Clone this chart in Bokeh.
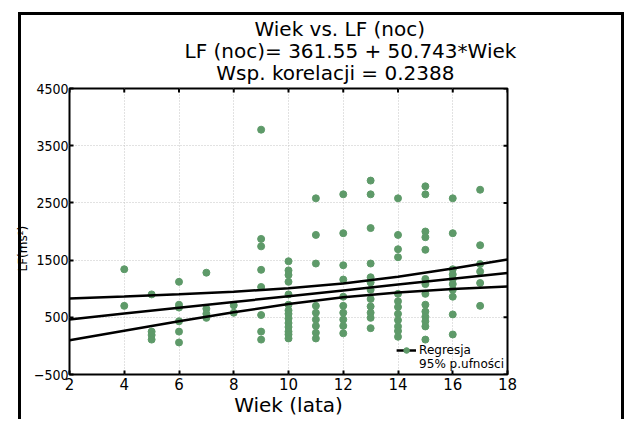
from bokeh.plotting import figure
from bokeh.models import FixedTicker, Range1d, Legend, LegendItem
from bokeh.embed import file_html
from bokeh.resources import INLINE

# ---- data ----
lf_age4 = [1340, 700]
lf_age5 = [900, 250, 190, 110]
lf_age6 = [1120, 720, 670, 430, 250, 60]
lf_age7 = [1280, 650, 560, 490]
lf_age8 = [710, 580]
lf_age9 = [3780, 1870, 1740, 1330, 1030, 540, 250, 110]
lf_age10 = [1480, 1320, 1240, 1120, 900, 720, 620, 560, 480, 400, 330, 250, 200, 130]
lf_age11 = [2580, 1940, 1440, 700, 580, 460, 350, 230, 130]
lf_age12 = [2650, 1970, 1410, 1160, 860, 700, 580, 460, 350, 220]
lf_age13 = [2890, 2650, 2060, 1440, 1200, 1110, 980, 820, 690, 580, 490, 310]
lf_age14 = [2580, 1940, 1690, 1550, 910, 780, 680, 560, 450, 340, 260, 160]
lf_age15 = [2790, 2650, 2000, 1900, 1680, 1170, 1080, 910, 720, 600, 510, 430, 340, 110]
lf_age16 = [2580, 1970, 1340, 1250, 1170, 1080, 980, 860, 550, 200]
lf_age17 = [2730, 1760, 1430, 1300, 1100, 700]

ages = [4, 5, 6, 7, 8, 9, 10, 11, 12, 13, 14, 15, 16, 17]
lf_columns = [lf_age4, lf_age5, lf_age6, lf_age7, lf_age8, lf_age9, lf_age10,
              lf_age11, lf_age12, lf_age13, lf_age14, lf_age15, lf_age16, lf_age17]

intercept = 361.55
slope = 50.743

band_x = [2, 4, 6, 8, 10, 12, 14, 16, 18]
band_upper = [828, 863, 902, 948, 1006, 1090, 1209, 1353, 1511]
band_lower = [98, 265, 430, 588, 732, 850, 935, 993, 1039]

x_ticks = [2, 4, 6, 8, 10, 12, 14, 16, 18]
y_ticks = [-500, 500, 1500, 2500, 3500, 4500]

title_lines = ["Wiek vs. LF (noc)",
               "LF (noc)= 361.55 + 50.743*Wiek",
               "Wsp. korelacji = 0.2388"]
x_label = "Wiek (lata)"
y_label = "LF(ms²)"
legend_labels = ["Regresja", "95% p.ufności"]

# ---- build ----
xs, ys = [], []
for a, col in zip(ages, lf_columns):
    xs += [a] * len(col)
    ys += col

FONT = "DejaVu Sans"
COND = "'DejaVu Sans Condensed', 'Liberation Sans Narrow', 'DejaVu Sans', sans-serif"
GREEN = "#5e9a69"
NBSP = "\u00a0"

X0, X1 = 2, 18
Y0, Y1 = -500, 4500
FRAME_W, FRAME_H = 438, 287

p = figure(width=624, height=419, x_range=Range1d(X0, X1), y_range=Range1d(Y0, Y1),
           output_backend="svg", toolbar_location=None,
           min_border_left=69, min_border_right=117, min_border_top=88, min_border_bottom=44,
           background_fill_color="white", border_fill_color="white", border_fill_alpha=0,
           outline_line_color="black", outline_line_width=2)
# thin black frame round the whole chart (left, top, right), drawn behind the canvas
p.styles = {"box-shadow": "inset 18px 12px 0 0 #ffffff, inset 21px 15px 0 0 #000000, "
                          "inset -3px 0 0 0 #000000"}

# the three title lines; leading no-break spaces set each line's start as in the reference
shifts = [11, 0, 5]
p.title.text = "\n".join(NBSP * n + t for n, t in zip(shifts, title_lines))
p.title.align = "left"
p.title.offset = 115
p.title.text_font = FONT
p.title.text_font_size = "20px"
p.title.text_font_style = "normal"
p.title.text_color = "black"
p.title.text_line_height = 0.92
p.title.standoff = 6

p.xaxis.ticker = FixedTicker(ticks=x_ticks)
p.yaxis.ticker = FixedTicker(ticks=y_ticks)
p.xgrid.ticker = FixedTicker(ticks=x_ticks)
p.ygrid.ticker = FixedTicker(ticks=y_ticks)
for g in (p.xgrid, p.ygrid):
    g.grid_line_color = "#c4c4c4"
    g.grid_line_dash = "1 2"
    g.grid_line_width = 1

for ax in (p.xaxis, p.yaxis):
    ax.axis_line_color = None
    ax.major_tick_in = 4
    ax.major_tick_out = 0
    ax.major_tick_line_color = "black"
    ax.major_tick_line_width = 2
    ax.minor_tick_line_color = None

p.xaxis.major_label_text_font = FONT
p.xaxis.major_label_text_font_size = "15px"
p.xaxis.major_label_text_color = "black"
p.xaxis.major_label_standoff = 3
p.xaxis.axis_label = x_label
p.xaxis.axis_label_text_font = FONT
p.xaxis.axis_label_text_font_size = "20px"
p.xaxis.axis_label_text_font_style = "normal"
p.xaxis.axis_label_text_color = "black"
p.xaxis.axis_label_standoff = 0

p.yaxis.major_label_text_font = COND
p.yaxis.major_label_text_font_size = "14px"
p.yaxis.major_label_text_color = "black"
p.yaxis.major_label_standoff = 1
# trailing no-break spaces move the rotated label down along the axis, as in the reference
p.yaxis.axis_label = y_label + NBSP * 9
p.yaxis.axis_label_text_font = FONT
p.yaxis.axis_label_text_font_size = "12px"
p.yaxis.axis_label_text_font_style = "normal"
p.yaxis.axis_label_text_color = "black"
p.yaxis.axis_label_standoff = 1

# scatter
pts = p.scatter(xs, ys, size=7, color=GREEN, line_color=GREEN)

# regression line and 95% bands
reg_y = [intercept + slope * x for x in band_x]
reg = p.line(band_x, reg_y, line_color="black", line_width=2.5)
p.line(band_x, band_upper, line_color="black", line_width=2.5)
p.line(band_x, band_lower, line_color="black", line_width=2.5)

# inner tick marks on the top and right edges, at the same tick values
tick_dy = (Y1 - Y0) * 4 / FRAME_H
tick_dx = (X1 - X0) * 4 / FRAME_W
p.segment(x0=x_ticks, y0=[Y1] * len(x_ticks), x1=x_ticks, y1=[Y1 - tick_dy] * len(x_ticks),
          line_color="black", line_width=2)
p.segment(x0=[X1] * len(y_ticks), y0=y_ticks, x1=[X1 - tick_dx] * len(y_ticks), y1=y_ticks,
          line_color="black", line_width=2)

# legend (in the empty lower-right corner of the plot area)
blank_r = p.scatter([], [], size=0, fill_alpha=0, line_alpha=0)
leg = Legend(items=[LegendItem(label=legend_labels[0], renderers=[reg, pts]),
                    LegendItem(label=legend_labels[1], renderers=[blank_r])],
             location="bottom_right",
             glyph_width=20, glyph_height=14, label_height=14, label_standoff=3,
             padding=2, margin=3, spacing=0,
             border_line_color=None, background_fill_alpha=0,
             label_text_font=FONT, label_text_font_size="12px", label_text_color="black")
p.add_layout(leg)

open("out.html", "w").write(file_html(p, INLINE))
